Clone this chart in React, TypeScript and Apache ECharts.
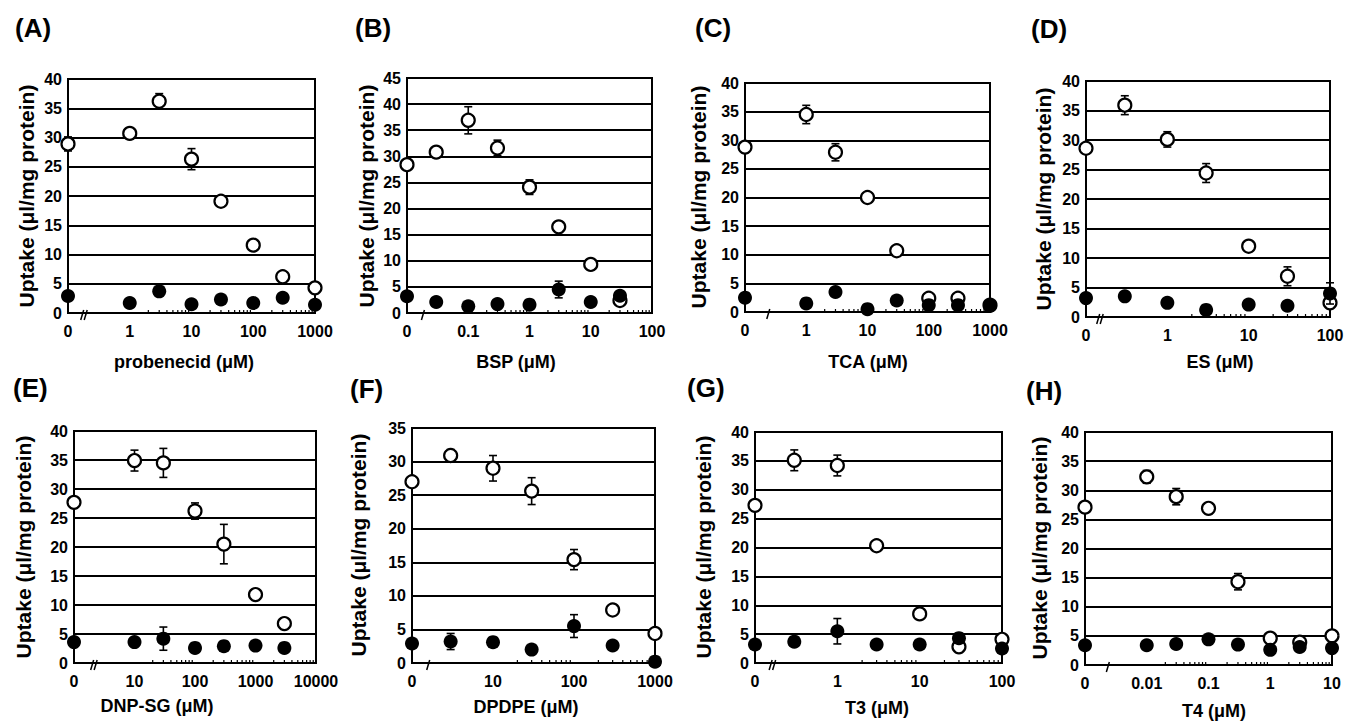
import React, { useEffect, useRef } from "react";
import * as echarts from "echarts";

const FONT = '"Liberation Sans", Arial, Helvetica, sans-serif';

// ---------- Data (concentrations in µM, uptake in µl/mg protein) ----------
// (A) probenecid
const concA = [0, 1, 3, 10, 30, 100, 300, 1000];
const openA = [28.9, 30.7, 36.2, 26.3, 19.1, 11.6, 6.2, 4.3];
const openErrA = [1.2, 0.9, 1.3, 1.8, 0, 0, 0, 0];
const filledA = [2.9, 1.7, 3.7, 1.5, 2.3, 1.7, 2.6, 1.4];
const filledErrA = [0, 0, 0, 0, 0, 0, 0, 0];
const ticksA = ["0", "1", "10", "100", "1000"];

// (B) BSP
const concB = [0, 0.03, 0.1, 0.3, 1, 3, 10, 30];
const openB = [28.4, 30.8, 36.9, 31.6, 24.1, 16.5, 9.3, 2.4];
const openErrB = [0, 0.5, 2.6, 1.5, 1.4, 0.8, 0, 0];
const filledB = [3.2, 2.1, 1.3, 1.7, 1.6, 4.5, 2.1, 3.3];
const filledErrB = [0, 0, 0, 0, 0, 1.6, 0, 0];
const ticksB = ["0", "0.1", "1", "10", "100"];

// (C) TCA
const concC = [0, 1, 3, 10, 30, 100, 300, 1000];
const openC = [28.8, 34.5, 27.9, 20.0, 10.7, 2.4, 2.4, 1.2];
const openErrC = [0, 1.6, 1.5, 0.6, 0, 0, 0, 0];
const filledC = [2.5, 1.5, 3.5, 0.5, 2.0, 1.2, 1.2, 1.1];
const filledErrC = [0, 0, 0, 0, 0, 0, 0, 0];
const ticksC = ["0", "1", "10", "100", "1000"];

// (D) ES
const concD = [0, 0.3, 1, 3, 10, 30, 100];
const openD = [28.6, 35.9, 30.1, 24.4, 12.0, 6.9, 2.4];
const openErrD = [0, 1.6, 1.3, 1.6, 0, 1.6, 0];
const filledD = [3.2, 3.5, 2.4, 1.2, 2.1, 1.9, 4.0];
const filledErrD = [0, 0, 0, 0, 0, 0, 1.8];
const ticksD = ["0", "1", "10", "100"];

// (E) DNP-SG
const concE = [0, 10, 30, 100, 300, 1000, 3000];
const openE = [27.7, 34.9, 34.5, 26.2, 20.5, 11.8, 6.8];
const openErrE = [0, 1.8, 2.5, 1.4, 3.4, 0, 0];
const filledE = [3.6, 3.6, 4.2, 2.6, 2.9, 3.0, 2.6];
const filledErrE = [0, 0, 2.0, 0, 0, 0, 0];
const ticksE = ["0", "10", "100", "1000", "10000"];

// (F) DPDPE
const concF = [0, 3, 10, 30, 100, 300, 1000];
const openF = [27.0, 30.9, 29.0, 25.6, 15.4, 7.9, 4.4];
const openErrF = [0, 0.9, 1.9, 2.0, 1.5, 0, 0];
const filledF = [2.9, 3.2, 3.1, 2.0, 5.5, 2.6, 0.2];
const filledErrF = [0, 1.2, 0, 0, 1.7, 0, 0];
const ticksF = ["0", "10", "100", "1000"];

// (G) T3
const concG = [0, 0.3, 1, 3, 10, 30, 100];
const openG = [27.3, 35.1, 34.2, 20.3, 8.5, 2.8, 4.1];
const openErrG = [0, 1.8, 1.8, 0, 0, 0, 0];
const filledG = [3.2, 3.7, 5.5, 3.2, 3.2, 4.3, 2.5];
const filledErrG = [0, 0, 2.2, 0, 0, 0, 0];
const ticksG = ["0", "1", "10", "100"];

// (H) T4
const concH = [0, 0.01, 0.03, 0.1, 0.3, 1, 3, 10];
const openH = [27.1, 32.3, 28.9, 26.9, 14.3, 4.6, 3.9, 5.0];
const openErrH = [0, 1.1, 1.4, 0, 1.4, 0, 0, 0];
const filledH = [3.4, 3.4, 3.6, 4.4, 3.5, 2.6, 3.1, 2.9];
const filledErrH = [0, 0, 0, 0, 0, 0, 0, 0];
const ticksH = ["0", "0.01", "0.1", "1", "10"];

const Y_TITLE = "Uptake (\u03bcl/mg protein)";

// ---------- Layout ----------
const panels = [
  { letter: "(A)", xTitle: "probenecid (\u03bcM)", conc: concA, open: openA, openErr: openErrA, filled: filledA, filledErr: filledErrA, ticks: ticksA, xMin: -1, yMax: 40,
    grid: { left: 68, top: 79, width: 247, height: 234 }, brk: { at: -0.77, n: 2 }, letterXY: [15, 28], yTitleXY: [26, 196], xTitleXY: [184, 362] },
  { letter: "(B)", xTitle: "BSP (\u03bcM)", conc: concB, open: openB, openErr: openErrB, filled: filledB, filledErr: filledErrB, ticks: ticksB, xMin: -2, yMax: 45,
    grid: { left: 407, top: 78, width: 245, height: 235 }, brk: { at: -1.74, n: 1 }, letterXY: [355, 28], yTitleXY: [366, 196], xTitleXY: [516, 362] },
  { letter: "(C)", xTitle: "TCA (\u03bcM)", conc: concC, open: openC, openErr: openErrC, filled: filledC, filledErr: filledErrC, ticks: ticksC, xMin: -1, yMax: 40,
    grid: { left: 745, top: 83, width: 245, height: 229 }, brk: { at: -0.62, n: 1 }, letterXY: [695, 28], yTitleXY: [698, 197], xTitleXY: [868, 362] },
  { letter: "(D)", xTitle: "ES (\u03bcM)", conc: concD, open: openD, openErr: openErrD, filled: filledD, filledErr: filledErrD, ticks: ticksD, xMin: -1, yMax: 40,
    grid: { left: 1086, top: 81, width: 244, height: 236 }, brk: { at: -0.85, n: 2 }, letterXY: [1031, 29], yTitleXY: [1043, 199], xTitleXY: [1220, 362] },
  { letter: "(E)", xTitle: "DNP-SG (\u03bcM)", conc: concE, open: openE, openErr: openErrE, filled: filledE, filledErr: filledErrE, ticks: ticksE, xMin: 0, yMax: 40,
    grid: { left: 74, top: 431, width: 242, height: 232 }, brk: { at: 0.3, n: 2 }, letterXY: [13, 388], yTitleXY: [23, 547], xTitleXY: [157, 706] },
  { letter: "(F)", xTitle: "DPDPE (\u03bcM)", conc: concF, open: openF, openErr: openErrF, filled: filledF, filledErr: filledErrF, ticks: ticksF, xMin: 0, yMax: 35,
    grid: { left: 412, top: 428, width: 243, height: 235 }, brk: { at: 0.2, n: 1 }, letterXY: [350, 389], yTitleXY: [358, 545], xTitleXY: [526, 707] },
  { letter: "(G)", xTitle: "T3 (\u03bcM)", conc: concG, open: openG, openErr: openErrG, filled: filledG, filledErr: filledErrG, ticks: ticksG, xMin: -1, yMax: 40,
    grid: { left: 755, top: 432, width: 247, height: 231 }, brk: { at: -0.81, n: 2 }, letterXY: [687, 388], yTitleXY: [703, 547], xTitleXY: [877, 708] },
  { letter: "(H)", xTitle: "T4 (\u03bcM)", conc: concH, open: openH, openErr: openErrH, filled: filledH, filledErr: filledErrH, ticks: ticksH, xMin: -3, yMax: 40,
    grid: { left: 1085, top: 432, width: 247, height: 233 }, brk: { at: -2.63, n: 1 }, letterXY: [1026, 391], yTitleXY: [1039, 548], xTitleXY: [1214, 711] },
];

function xPos(c: number, xMin: number) {
  return c === 0 ? xMin : Math.log10(c);
}

function buildOption() {
  const grids: any[] = [];
  const xAxes: any[] = [];
  const yAxes: any[] = [];
  const series: any[] = [];
  const graphics: any[] = [];

  panels.forEach((p, i) => {
    const xMax = p.xMin + p.ticks.length - 1;
    grids.push({ ...p.grid, show: true, borderColor: "#000", borderWidth: 2, backgroundColor: "transparent" });
    xAxes.push({
      gridIndex: i, type: "value", min: p.xMin, max: xMax, interval: 1,
      axisLine: { show: true, onZero: false, lineStyle: { color: "#000", width: 2 } },
      axisTick: { show: false },
      splitLine: { show: false },
      axisLabel: {
        color: "#000", fontFamily: FONT, fontWeight: "bold", fontSize: 16, margin: 10,
        formatter: (v: number) => p.ticks[Math.round(v - p.xMin)] ?? "",
      },
    });
    yAxes.push({
      gridIndex: i, type: "value", min: 0, max: p.yMax, interval: 5,
      axisLine: { show: true, onZero: false, lineStyle: { color: "#000", width: 2 } },
      axisTick: { show: false },
      splitLine: { show: true, lineStyle: { color: "#000", width: 2 } },
      axisLabel: { color: "#000", fontFamily: FONT, fontWeight: "bold", fontSize: 16, margin: 6 },
    });

    // minor log ticks (inside, along the bottom axis)
    const minor: number[][] = [];
    for (let d = p.xMin + 1; d < xMax; d++) {
      for (let k = 2; k <= 9; k++) minor.push([d + Math.log10(k), 0]);
    }
    series.push({
      type: "custom", xAxisIndex: i, yAxisIndex: i, z: 1, silent: true,
      data: minor,
      renderItem: (_params: any, api: any) => {
        const pt = api.coord([api.value(0), 0]);
        return { type: "line", shape: { x1: pt[0], y1: pt[1], x2: pt[0], y2: pt[1] - 3 }, style: { stroke: "#000", lineWidth: 1.2 } };
      },
    });

    // axis break marks
    series.push({
      type: "custom", xAxisIndex: i, yAxisIndex: i, z: 5, silent: true,
      data: [[p.brk.at, 0, p.brk.n]],
      renderItem: (_params: any, api: any) => {
        const pt = api.coord([api.value(0), 0]);
        const n = api.value(2);
        const children: any[] = [];
        for (let j = 0; j < n; j++) {
          const ox = pt[0] + j * 3.5;
          children.push({ type: "line", shape: { x1: ox - 1.5, y1: pt[1] + 7, x2: ox + 1.5, y2: pt[1] - 3 }, style: { stroke: "#000", lineWidth: 1.5 } });
        }
        return { type: "group", children };
      },
    });

    const errRender = (_params: any, api: any) => {
      const x = api.value(0), y = api.value(1), e = api.value(2);
      const a = api.coord([x, y + e]);
      const b = api.coord([x, y - e]);
      const w = 4;
      const st = { stroke: "#000", lineWidth: 1.6 };
      return {
        type: "group",
        children: [
          { type: "line", shape: { x1: a[0], y1: a[1], x2: b[0], y2: b[1] }, style: st },
          { type: "line", shape: { x1: a[0] - w, y1: a[1], x2: a[0] + w, y2: a[1] }, style: st },
          { type: "line", shape: { x1: b[0] - w, y1: b[1], x2: b[0] + w, y2: b[1] }, style: st },
        ],
      };
    };

    const openErrData = p.conc.map((c, j) => [xPos(c, p.xMin), p.open[j], p.openErr[j]]).filter((d) => d[2] > 0);
    const filledErrData = p.conc.map((c, j) => [xPos(c, p.xMin), p.filled[j], p.filledErr[j]]).filter((d) => d[2] > 0);

    series.push({ type: "custom", xAxisIndex: i, yAxisIndex: i, z: 2, silent: true, data: openErrData, renderItem: errRender });
    series.push({
      type: "scatter", xAxisIndex: i, yAxisIndex: i, z: 3, symbol: "circle", symbolSize: 13,
      itemStyle: { color: "#fff", borderColor: "#000", borderWidth: 2.2, opacity: 1 },
      emphasis: { disabled: true },
      data: p.conc.map((c, j) => [xPos(c, p.xMin), p.open[j]]),
    });
    series.push({ type: "custom", xAxisIndex: i, yAxisIndex: i, z: 4, silent: true, data: filledErrData, renderItem: errRender });
    series.push({
      type: "scatter", xAxisIndex: i, yAxisIndex: i, z: 5, symbol: "circle", symbolSize: 14,
      itemStyle: { color: "#000", borderColor: "#000", borderWidth: 0, opacity: 1 },
      emphasis: { disabled: true },
      data: p.conc.map((c, j) => [xPos(c, p.xMin), p.filled[j]]),
    });

    // texts
    graphics.push({
      type: "text", x: p.letterXY[0], y: p.letterXY[1],
      style: { text: p.letter, fill: "#000", fontFamily: FONT, fontWeight: "bold", fontSize: 26, textAlign: "left", textVerticalAlign: "middle", align: "left", verticalAlign: "middle" },
    });
    graphics.push({
      type: "text", x: p.xTitleXY[0], y: p.xTitleXY[1],
      style: { text: p.xTitle, fill: "#000", fontFamily: FONT, fontWeight: "bold", fontSize: 18, textAlign: "center", textVerticalAlign: "middle", align: "center", verticalAlign: "middle" },
    });
    graphics.push({
      type: "text", x: p.yTitleXY[0], y: p.yTitleXY[1], rotation: Math.PI / 2,
      style: { text: Y_TITLE, fill: "#000", fontFamily: FONT, fontWeight: "bold", fontSize: 21, textAlign: "center", textVerticalAlign: "middle", align: "center", verticalAlign: "middle" },
    });
  });

  return {
    animation: false,
    backgroundColor: "#fff",
    grid: grids,
    xAxis: xAxes,
    yAxis: yAxes,
    series,
    graphic: { elements: graphics },
  };
}

export default function App() {
  const ref = useRef<HTMLDivElement>(null);
  useEffect(() => {
    if (!ref.current) return;
    const chart = echarts.init(ref.current, undefined, { renderer: "svg" });
    chart.setOption(buildOption() as any);
    return () => chart.dispose();
  }, []);
  return (
    <div
      ref={ref}
      style={{ position: "fixed", left: 0, top: 0, width: 1363, height: 726, background: "#fff" }}
    />
  );
}
